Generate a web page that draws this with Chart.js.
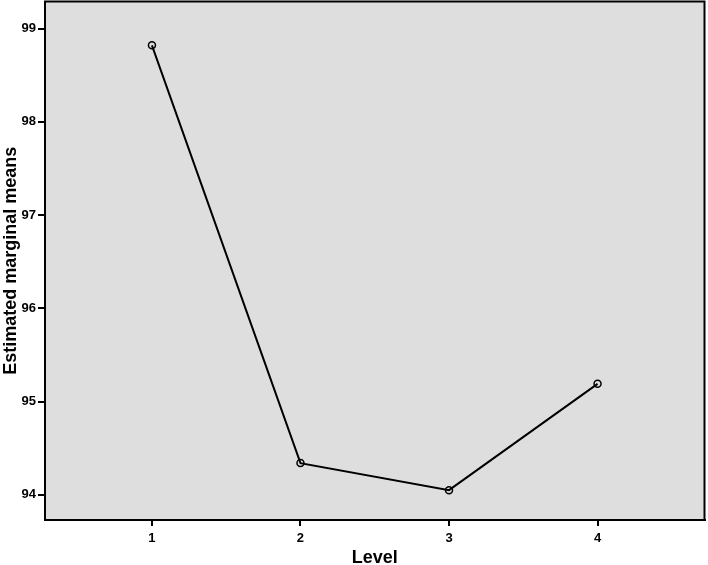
<!DOCTYPE html>
<html>
<head>
<meta charset="utf-8">
<script src="https://cdn.jsdelivr.net/npm/chart.js@4.4.0/dist/chart.umd.min.js"></script>
<style>
  html, body { margin: 0; padding: 0; background: #fff; overflow: hidden; }
  #wrap { width: 708px; height: 565px; overflow: hidden; }
  #myChart { display: block; margin-top: -4px; }
</style>
</head>
<body>
<div id="wrap"><canvas id="myChart" width="710" height="569"></canvas></div>
<script>
// data
var levels = [1, 2, 3, 4];
var means = [98.82, 94.34, 94.05, 95.19];
var yTicks = [94, 95, 96, 97, 98, 99];

// grey plot background + black frame
var plotFrame = {
  id: 'plotFrame',
  beforeDraw: function (chart) {
    var a = chart.chartArea, ctx = chart.ctx;
    ctx.save();
    ctx.fillStyle = '#dedede';
    ctx.fillRect(a.left, a.top, a.right - a.left, a.bottom - a.top);
    ctx.restore();
  },
  afterDraw: function (chart) {
    var a = chart.chartArea, ctx = chart.ctx;
    ctx.save();
    ctx.strokeStyle = '#000';
    ctx.lineWidth = 2;
    ctx.strokeRect(a.left, a.top, a.right - a.left, a.bottom - a.top);
    ctx.restore();
  }
};

var tickFont = { family: 'Liberation Sans, Arial, sans-serif', size: 13, weight: 'bold' };

new Chart("myChart", {
  type: "line",
  data: {
    datasets: [{
      data: levels.map(function (l, i) { return { x: l, y: means[i] }; }),
      borderColor: '#000',
      borderWidth: 2,
      pointRadius: 3.5,
      pointBorderWidth: 1.5,
      pointBorderColor: '#000',
      pointBackgroundColor: 'rgba(0,0,0,0)',
      tension: 0
    }]
  },
  options: {
    responsive: false,
    animation: false,
    layout: { padding: { top: 0, right: 0, left: 0, bottom: 0 } },
    plugins: {
      legend: { display: false },
      tooltip: { enabled: false }
    },
    scales: {
      x: {
        type: 'linear',
        min: 0.28,
        max: 4.72,
        afterBuildTicks: function (axis) {
          axis.ticks = levels.map(function (v) { return { value: v }; });
        },
        afterFit: function (axis) {
          axis.height = 45;
          axis.paddingLeft = 0;
          axis.paddingRight = 0;
        },
        grid: {
          drawOnChartArea: false,
          drawTicks: true,
          tickLength: 6,
          color: '#000',
          lineWidth: 2
        },
        border: { display: true, color: '#000', width: 2 },
        ticks: {
          color: '#000',
          padding: 5,
          font: tickFont
        },
        title: {
          display: true,
          text: 'Level',
          color: '#000',
          padding: { top: 2, bottom: -4 },
          font: { family: 'Liberation Sans, Arial, sans-serif', size: 18, weight: 'bold' }
        }
      },
      y: {
        type: 'linear',
        min: 93.73,
        max: 99.29,
        afterBuildTicks: function (axis) {
          axis.ticks = yTicks.map(function (v) { return { value: v }; });
        },
        afterFit: function (axis) {
          axis.width = 45;
          axis.paddingTop = 0;
          axis.paddingBottom = 0;
        },
        grid: {
          drawOnChartArea: false,
          drawTicks: true,
          tickLength: 7,
          color: '#000',
          lineWidth: 2
        },
        border: { display: true, color: '#000', width: 2 },
        ticks: {
          color: '#000',
          padding: 2,
          font: tickFont
        },
        title: {
          display: true,
          text: 'Estimated marginal means',
          color: '#000',
          padding: { top: 0, bottom: 0 },
          font: { family: 'Liberation Sans, Arial, sans-serif', size: 18, weight: 'bold' }
        }
      }
    }
  },
  plugins: [plotFrame]
});
</script>
</body>
</html>
